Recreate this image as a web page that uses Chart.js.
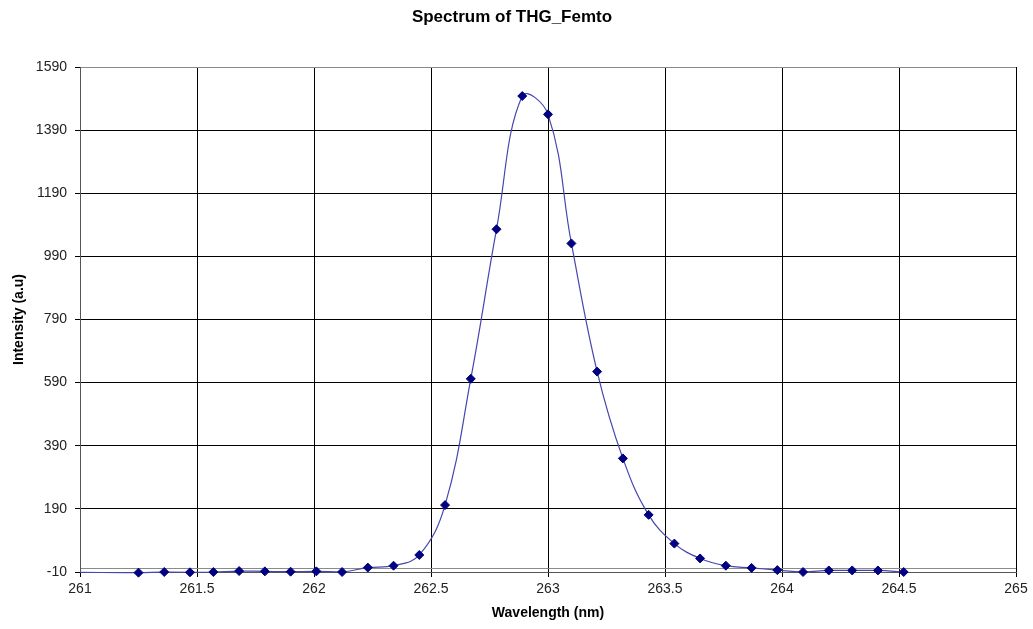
<!DOCTYPE html>
<html>
<head>
<meta charset="utf-8">
<script src="https://cdn.jsdelivr.net/npm/chart.js@4/dist/chart.umd.min.js"></script>
<style>
  html, body { margin: 0; padding: 0; background: #fff; }
</style>
</head>
<body>
<canvas id="chartSpectrum" width="1033" height="629"></canvas>
<script>
// values
const wavelengths = [261.00, 261.25, 261.36, 261.47, 261.57, 261.68, 261.79, 261.90, 262.01, 262.12, 262.23, 262.34, 262.45,
  262.56, 262.67, 262.78, 262.89, 263.00, 263.10, 263.21, 263.32, 263.43, 263.54, 263.65, 263.76, 263.87, 263.98,
  264.09, 264.20, 264.30, 264.41, 264.52];
const intensities = [-11, -12, -10, -11, -10, -7, -8, -9, -8, -10, 4, 10, 44,
  202, 602, 1076, 1498, 1440, 1031, 625, 350, 171, 80, 33, 10, 3, -4,
  -10, -5, -5, -5, -10];
const yTickValues = [-10, 190, 390, 590, 790, 990, 1190, 1390, 1590];
const xTickValues = [261, 261.5, 262, 262.5, 263, 263.5, 264, 264.5, 265];

const FONT = 'Arial, "Liberation Sans", sans-serif';
const points = wavelengths.map((w, i) => ({ x: w, y: intensities[i] }));
// first entry only carries the line in from the axis edge, no marker there
const radii = wavelengths.map((w, i) => i === 0 ? 0 : 4.5);

new Chart(document.getElementById('chartSpectrum'), {
  type: 'scatter',
  data: {
    datasets: [{
      label: 'THG_Femto',
      data: points,
      showLine: true,
      tension: 0.4,
      borderColor: '#4646ae',
      borderWidth: 1.2,
      pointStyle: 'rectRot',
      pointRadius: radii,
      pointBackgroundColor: '#000080',
      pointBorderColor: '#000080',
      pointBorderWidth: 1,
      clip: 6
    }]
  },
  options: {
    responsive: false,
    animation: false,
    layout: { padding: { left: 8, right: 17, top: 0, bottom: 0 } },
    plugins: {
      legend: { display: false },
      tooltip: { enabled: false },
      title: {
        display: true,
        text: 'Spectrum of THG_Femto',
        color: '#000',
        font: { family: FONT, size: 17, weight: 'bold' },
        padding: { top: 7, bottom: 39.6 }
      }
    },
    scales: {
      x: {
        type: 'linear',
        min: 261, max: 265,
        afterBuildTicks: s => { s.ticks = xTickValues.map(v => ({ value: v })); },
        afterFit: s => { s.height = 57; },
        ticks: {
          color: '#222',
          padding: 4,
          font: { family: FONT, size: 14 },
          callback: v => String(v)
        },
        grid: { color: '#000', lineWidth: 1, tickLength: 5, tickColor: '#000' },
        border: { display: true, color: '#555', width: 1 },
        title: {
          display: true,
          text: 'Wavelength (nm)',
          color: '#000',
          font: { family: FONT, size: 14, weight: 'bold' },
          padding: { top: 0, bottom: 7 }
        }
      },
      y: {
        type: 'linear',
        min: -10, max: 1590,
        afterBuildTicks: s => {
          s.ticks = yTickValues.concat([0]).sort((a, b) => a - b).map(v => ({ value: v }));
        },
        afterFit: s => { s.width = 72; },
        ticks: {
          color: '#222',
          padding: 8,
          font: { family: FONT, size: 14 },
          callback: v => v === 0 ? '' : String(v)
        },
        grid: {
          color: ctx => (ctx.tick && (ctx.tick.value === 0 || ctx.tick.value === 1590)) ? '#8a8a8a' : '#000',
          lineWidth: 1,
          tickLength: 5,
          tickColor: ctx => (ctx.tick && ctx.tick.value === 0) ? 'rgba(0,0,0,0)' : '#000'
        },
        border: { display: true, color: '#555', width: 1 },
        title: {
          display: true,
          text: 'Intensity (a.u)',
          color: '#000',
          font: { family: FONT, size: 14, weight: 'bold' },
          padding: { top: 3, bottom: 0 }
        }
      }
    }
  }
});
</script>
</body>
</html>
